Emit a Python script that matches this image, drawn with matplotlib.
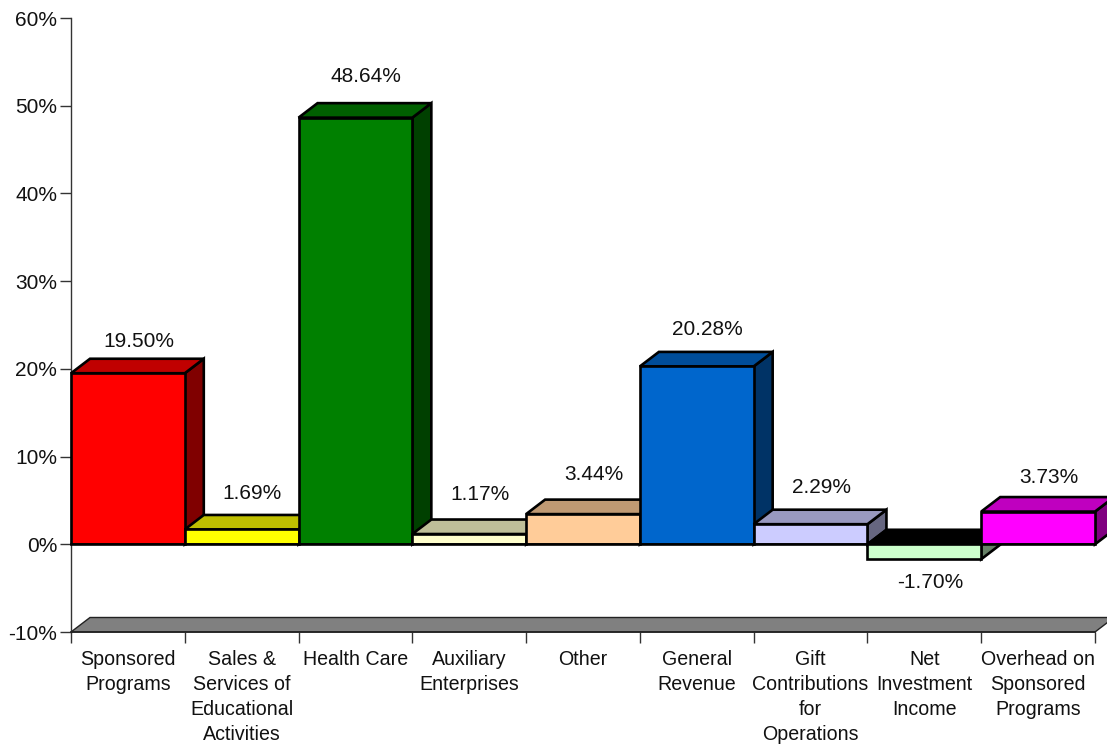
import matplotlib.pyplot as plt
import numpy as np
from matplotlib.patches import Polygon

plt.rcParams["font.family"] = ["Liberation Sans", "DejaVu Sans"]
plt.rcParams["font.size"] = 15

categories = [
    "Sponsored\nPrograms",
    "Sales &\nServices of\nEducational\nActivities",
    "Health Care",
    "Auxiliary\nEnterprises",
    "Other",
    "General\nRevenue",
    "Gift\nContributions\nfor\nOperations",
    "Net\nInvestment\nIncome",
    "Overhead on\nSponsored\nPrograms",
]
values = [19.50, 1.69, 48.64, 1.17, 3.44, 20.28, 2.29, -1.70, 3.73]
front_colors = ["#ff0000", "#ffff00", "#008000", "#ffffcc", "#ffcc99",
                "#0066cc", "#ccccff", "#ccffcc", "#ff00ff"]
top_colors = ["#c00000", "#bfbf00", "#006000", "#bfbf99", "#bf9973",
              "#004d99", "#9999bf", "#000000", "#bf00bf"]
side_colors = ["#800000", "#808000", "#004000", "#808066", "#80664d",
               "#003366", "#666680", "#668066", "#800080"]
# gap between bar and its label, pixels
label_gaps = [17, 21, 27, 25, 25, 22, 22, 23, 20]
yticks = [-10, 0, 10, 20, 30, 40, 50, 60]

W, H = 1107, 747
fig = plt.figure(figsize=(W / 100, H / 100), dpi=100)
ax = fig.add_axes([71 / W, 1 - 632 / H, (1095 - 71) / W, (632 - 18) / H])
ax.set_xlim(0, 9)
ax.set_ylim(-10, 60)

# depth of the fake 3d boxes, in data units
dx = 19 / (1024 / 9)
dy = 14.5 / (614 / 70)


def add_face(points, color, lw=1.9):
    ax.add_patch(Polygon(points, closed=True, facecolor=color, edgecolor="black",
                         linewidth=lw, joinstyle="miter", clip_on=False, zorder=3))


# floor
ax.add_patch(Polygon([(0, -10), (9, -10), (9 + dx, -10 + dy), (dx, -10 + dy)],
                     closed=True, facecolor="#808080", edgecolor="#222222",
                     linewidth=1.0, clip_on=False, zorder=2))

for i, v in enumerate(values):
    lo, hi = min(v, 0), max(v, 0)
    add_face([(i + 1, lo), (i + 1 + dx, lo + dy), (i + 1 + dx, hi + dy), (i + 1, hi)], side_colors[i])
    add_face([(i, hi), (i + dx, hi + dy), (i + 1 + dx, hi + dy), (i + 1, hi)], top_colors[i])
    add_face([(i, lo), (i + 1, lo), (i + 1, hi), (i, hi)], front_colors[i])

    label = f"{v:.2f}%"
    if v >= 0:
        ax.annotate(label, (i + 0.5, v + dy), xytext=(10.5, label_gaps[i]),
                    textcoords="offset pixels", ha="center", va="center",
                    color="#111111", annotation_clip=False, zorder=4)
    else:
        ax.annotate(label, (i + 0.5, v), xytext=(5.5, -label_gaps[i]),
                    textcoords="offset pixels", ha="center", va="center",
                    color="#111111", annotation_clip=False, zorder=4)

ax.plot([0, 9], [0, 0], color="black", linewidth=1.2, zorder=4, clip_on=False)

for side in ["top", "right"]:
    ax.spines[side].set_visible(False)
ax.spines["left"].set_linewidth(1.0)
ax.spines["left"].set_color("#333333")
ax.spines["bottom"].set_linewidth(1.2)
ax.spines["bottom"].set_color("#222222")
ax.spines["bottom"].set_zorder(3)

ax.set_yticks(yticks, [f"{t}%" for t in yticks])
ax.tick_params(axis="y", length=8, width=1.0, color="#333333", pad=2, labelcolor="#111111")

edges = np.arange(len(categories) + 1)
ax.set_xticks(edges, [""] * len(edges))
ax.set_xticks(edges[:-1] + 0.5, categories, minor=True, linespacing=1.415, fontsize=14.1)
ax.tick_params(axis="x", which="major", length=8, width=1.0, color="#333333")
ax.tick_params(axis="x", which="minor", length=0, pad=12.7, labelcolor="#111111")

fig.savefig("out.png", dpi=100)
